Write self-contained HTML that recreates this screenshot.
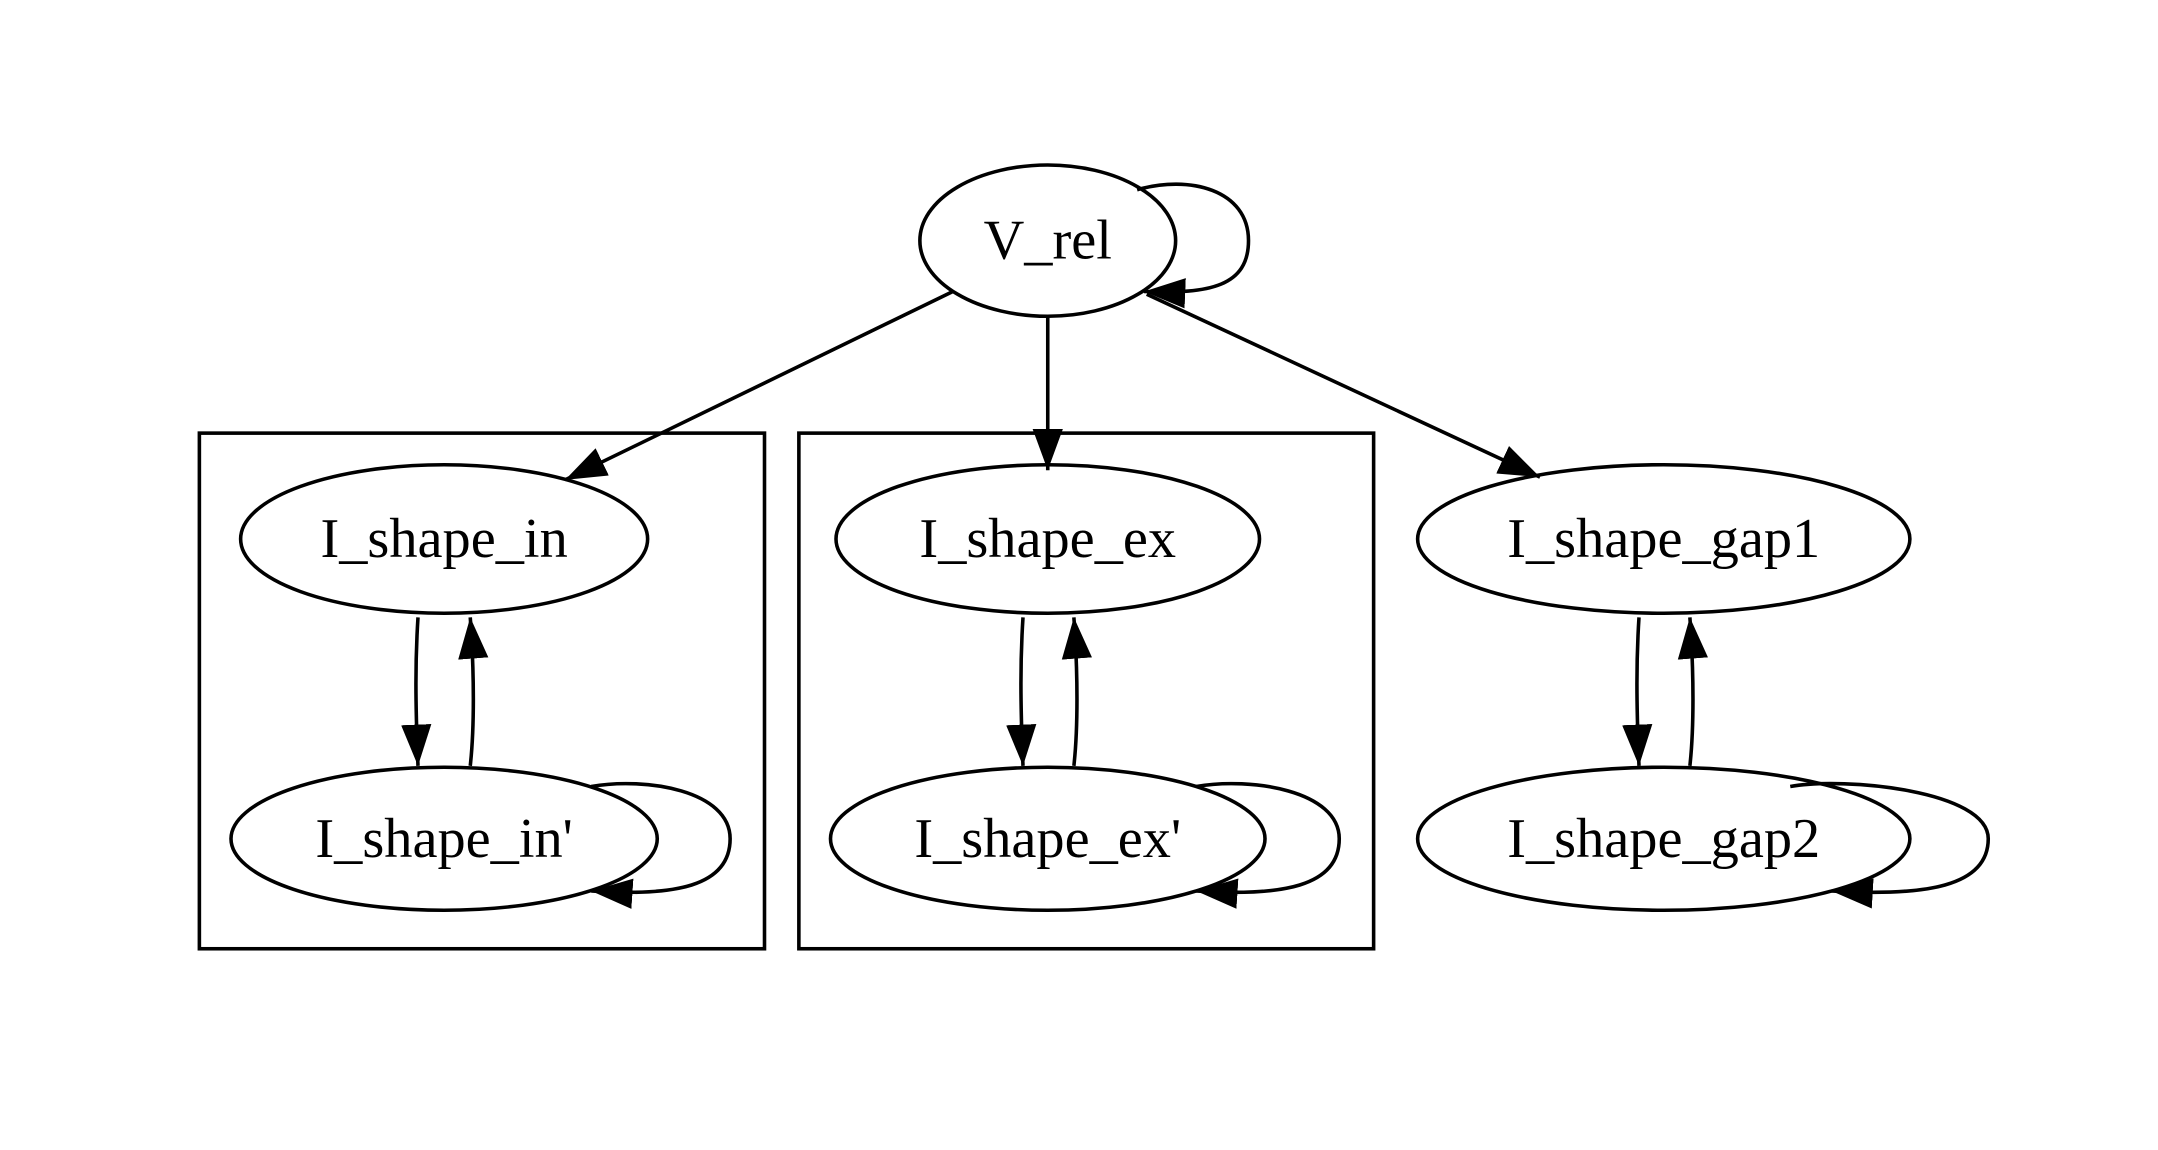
<!DOCTYPE html>
<html><head><meta charset="utf-8"><style>
html,body{margin:0;padding:0;background:#fff;}
svg{display:block}
text{font-family:"Liberation Serif",serif;font-size:41px;fill:#000;text-anchor:middle;dominant-baseline:central}
</style></head><body>
<svg width="2158" height="1150" xmlns="http://www.w3.org/2000/svg">
<defs>
<marker id="a" markerUnits="userSpaceOnUse" markerWidth="40" markerHeight="40" refX="30" refY="11" orient="auto" viewBox="0 0 40 22">
<path d="M0,0 L30,11 L0,22 Z" fill="#000"/>
</marker>
</defs>
<g transform="scale(1.375)" fill="none" stroke="#000" stroke-width="2.6">
<rect x="145" y="315" width="411" height="375"/>
<rect x="581" y="315" width="418" height="375"/>
<ellipse cx="762" cy="175" rx="93" ry="55"/>
<ellipse cx="323" cy="392" rx="148" ry="54"/>
<ellipse cx="323" cy="610" rx="155" ry="52"/>
<ellipse cx="762" cy="392" rx="154" ry="54"/>
<ellipse cx="762" cy="610" rx="158" ry="52"/>
<ellipse cx="1210" cy="392" rx="179" ry="54"/>
<ellipse cx="1210" cy="610" rx="179" ry="52"/>
<path d="M693,212 L411,349" marker-end="url(#a)"/>
<path d="M762,230 L762,342" marker-end="url(#a)"/>
<path d="M834,214 L1120,347" marker-end="url(#a)"/>
<path d="M827,138 C865,127 908,138 908,175 C908,208 880,214 832,212" marker-end="url(#a)"/>
<path d="M304,449 C302,480 302,510 304,557" marker-end="url(#a)"/>
<path d="M342,557 C345,530 345,490 342,449" marker-end="url(#a)"/>
<path d="M744,449 C742,480 742,510 744,557" marker-end="url(#a)"/>
<path d="M781,557 C784,530 784,490 781,449" marker-end="url(#a)"/>
<path d="M1192,449 C1190,480 1190,510 1192,557" marker-end="url(#a)"/>
<path d="M1229,557 C1232,530 1232,490 1229,449" marker-end="url(#a)"/>
<path d="M430,572 C470,565 531,575 531,610 C531,645 490,652 430,648" marker-end="url(#a)"/>
<path d="M870,572 C910,565 974,575 974,610 C974,645 932,652 870,648" marker-end="url(#a)"/>
<path d="M1302,572 C1342,565 1446,575 1446,610 C1446,645 1400,652 1332,648" marker-end="url(#a)"/>
</g>
<g transform="scale(1.375)">
<text x="762" y="175">V_rel</text>
<text x="323" y="392">I_shape_in</text>
<text x="323" y="610">I_shape_in'</text>
<text x="762" y="392">I_shape_ex</text>
<text x="762" y="610">I_shape_ex'</text>
<text x="1210" y="392">I_shape_gap1</text>
<text x="1210" y="610">I_shape_gap2</text>
</g>
</svg>
</body></html>
